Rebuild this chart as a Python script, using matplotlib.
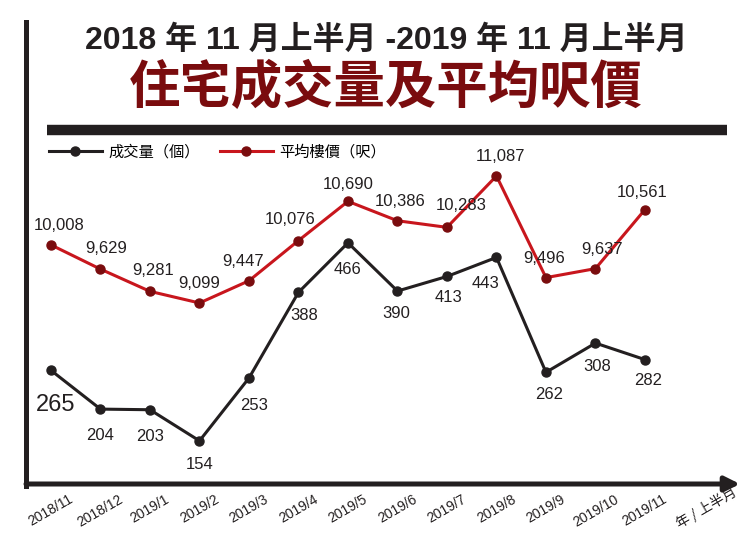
import matplotlib.pyplot as plt
from matplotlib.lines import Line2D

# Data
months = ['2018/11', '2018/12', '2019/1', '2019/2', '2019/3', '2019/4', '2019/5',
          '2019/6', '2019/7', '2019/8', '2019/9', '2019/10', '2019/11']
volume = [265, 204, 203, 154, 253, 388, 466, 390, 413, 443, 262, 308, 282]
price = [10008, 9629, 9281, 9099, 9447, 10076, 10690, 10386, 10283, 11087, 9496, 9637, 10561]

# label offsets in points (dx, dy)
price_off = [(6, 14), (4, 15), (2, 15), (0, 14), (-4, 14), (-6, 15), (0, 12),
             (2, 14), (10, 16), (3, 14), (-1, 14), (5, 14), (-2, 12)]
vol_off = [(3, -25), (0, -19), (0, -19), (0, -17), (4, -20), (4, -17), (0, -19),
           (-1, -16), (1, -15), (-8, -19), (2, -16), (1, -17), (2, -15)]

FONT = ['Liberation Sans', 'Noto Sans CJK TC']
plt.rcParams['font.family'] = FONT

BLACK = '#231f20'
RED = '#c8161d'
DARKRED = '#7a0c0e'

fig = plt.figure(figsize=(7.5, 5.52), dpi=100)
W, H = 750, 552
ax = fig.add_axes([26 / W, 1 - 484 / H, 714 / W, 344 / H])
ax2 = ax.twinx()

x = list(range(len(months)))
ax.plot(x, volume, color=BLACK, lw=2.2, marker='o', ms=6.5, mfc=BLACK, mec=BLACK, zorder=3)
ax2.plot(x, price, color=RED, lw=2.2, marker='o', ms=6.5, mfc=DARKRED, mec=DARKRED, zorder=3)

ax.set_xlim(-0.505, 13.92)
ax.set_ylim(86, 628)
ax2.set_ylim(6266, 11650)

for i, v in enumerate(volume):
    fs = 17 if i == 0 else 12
    ax.annotate(str(v), (i, v), xytext=vol_off[i], textcoords='offset points',
                ha='center', va='center', fontsize=fs, color=BLACK)
for i, v in enumerate(price):
    ax2.annotate(f'{v:,}', (i, v), xytext=price_off[i], textcoords='offset points',
                 ha='center', va='center', fontsize=12, color=BLACK)

for a in (ax, ax2):
    for s in a.spines.values():
        s.set_visible(False)
    a.set_yticks([])
ax.set_xticks(x)
ax.set_xticklabels(months, rotation=30, ha='center', fontsize=10, color=BLACK)
ax.tick_params(axis='x', length=0, pad=6)

# x axis arrow
ax.annotate('', xy=(1.0, 0), xytext=(0, 0), xycoords='axes fraction',
            arrowprops=dict(arrowstyle='-|>', lw=3.6, color=BLACK, mutation_scale=22,
                            shrinkA=0, shrinkB=0))
ax.text(13.25, -0.07, '年 / 上半月', transform=ax.get_xaxis_transform(), rotation=30,
        ha='center', va='center', fontsize=10, color=BLACK, family=['Noto Sans CJK TC'])

# left vertical rule and separator bar
fig.add_artist(Line2D([26 / W, 26 / W], [1 - 22 / H, 1 - 486 / H], lw=3.6, color=BLACK))
fig.add_artist(Line2D([47 / W, 727 / W], [1 - 130 / H, 1 - 130 / H], lw=7.5, color=BLACK,
                      solid_capstyle='butt'))

# titles
fig.text(386 / W, 1 - 41 / H, '2018 年 11 月上半月 -2019 年 11 月上半月', ha='center',
         va='center', fontsize=23, fontweight='bold', color=BLACK)
fig.text(386 / W, 1 - 87 / H, '住宅成交量及平均呎價', ha='center', va='center',
         fontsize=37, fontweight='heavy', color=DARKRED, family=['Noto Sans CJK TC'])

# legend
handles = [Line2D([], [], color=BLACK, lw=2.2, marker='o', ms=6.5, mfc=BLACK, mec=BLACK),
           Line2D([], [], color=RED, lw=2.2, marker='o', ms=6.5, mfc=DARKRED, mec=DARKRED)]
fig.legend(handles, ['成交量（個）', '平均樓價（呎）'], loc='center left',
           bbox_to_anchor=(35 / W, 1 - 152 / H), ncol=2, frameon=False,
           prop={'family': ['Noto Sans CJK TC'], 'size': 11}, handlelength=3.5,
           handletextpad=0.4, columnspacing=1.3)

fig.savefig('out.png', dpi=100)
